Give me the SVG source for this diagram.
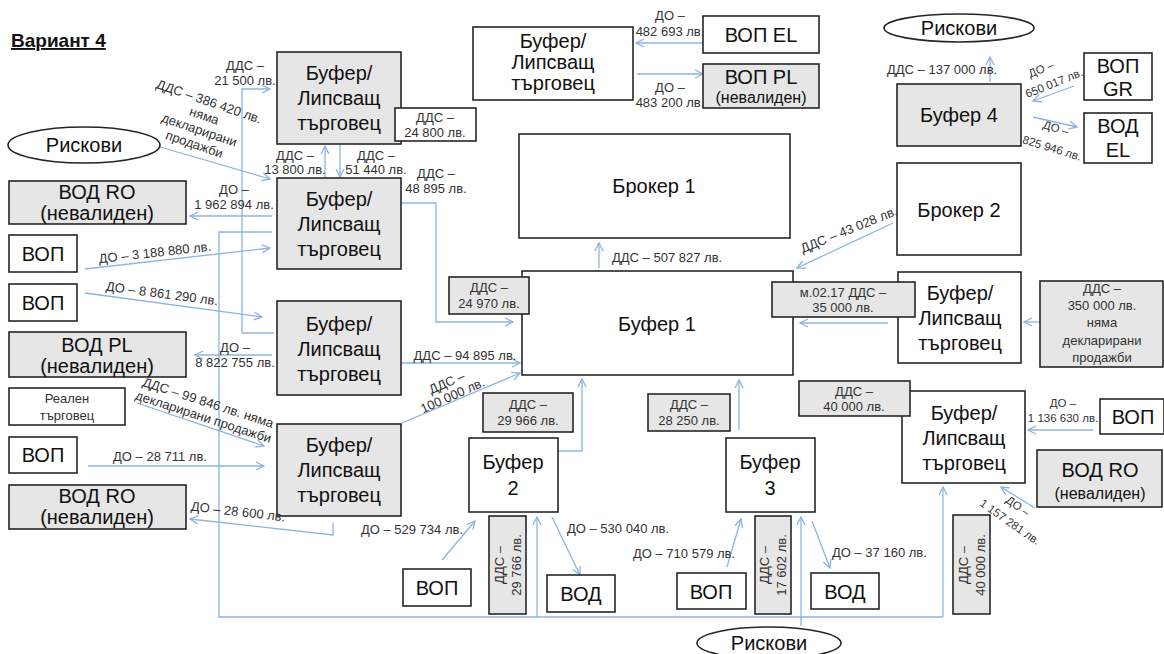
<svg xmlns="http://www.w3.org/2000/svg" width="1164" height="654" viewBox="0 0 1164 654">
<style>
text{font-family:"Liberation Sans",Arial,sans-serif}
.n{fill:#fff;stroke:#262626;stroke-width:1.6}
.g{fill:#e6e6e6;stroke:#262626;stroke-width:1.6}
.t{font-size:20px;fill:#111;text-anchor:middle}
.m{font-size:16px;fill:#111;text-anchor:middle}
.s{font-size:13px;fill:#333;text-anchor:middle}
.l{font-size:11.5px;fill:#333;text-anchor:middle}
.st{text-anchor:start}
.en{text-anchor:end}
.c{fill:none;stroke:#8db3e2;stroke-width:1.3}
.a{marker-end:url(#ah)}
</style>
<defs>
<marker id="ah" viewBox="0 0 10 10" refX="9" refY="5" markerWidth="10" markerHeight="10" orient="auto" markerUnits="userSpaceOnUse">
<path d="M1,1 L9,5 L1,9" fill="none" stroke="#8db3e2" stroke-width="1.3"/>
</marker>
</defs>
<rect width="1164" height="654" fill="#fff"/>
<text x="11" y="47" font-size="19" font-weight="bold" text-decoration="underline" fill="#111">Вариант 4</text>

<g id="connectors">
<path class="c a" d="M242,333 H274 M242,333 V89 H270"/>
<path class="c" d="M272,232 H219 V617 H943"/>
<path class="c a" d="M943,617 V487"/>
<path class="c a" d="M537,617 V517"/>
<path class="c a" d="M801,626 V517"/>
<path class="c a" d="M160,147 L270,179"/>
<path class="c a" d="M272,216 H190"/>
<path class="c a" d="M85,269 L270,248"/>
<path class="c a" d="M85,293 L262,317"/>
<path class="c a" d="M272,355 H195"/>
<path class="c a" d="M137,403 L264,446"/>
<path class="c a" d="M88,466 H264"/>
<path class="c a" d="M333,523 V535 L190,519"/>
<path class="c a" d="M325,178 V146"/>
<path class="c a" d="M340,145 V177"/>
<path class="c a" d="M401,203 H436 V322 H513"/>
<path class="c a" d="M402,363 H520"/>
<path class="c a" d="M402,423 L520,373"/>
<path class="c a" d="M703,43 H636"/>
<path class="c a" d="M637,74 H703"/>
<path class="c a" d="M599,268 V243"/>
<path class="c a" d="M558,451 H582 V379"/>
<path class="c a" d="M739,430 V380"/>
<path class="c a" d="M442,560 L475,521"/>
<path class="c a" d="M552,517 L580,575"/>
<path class="c a" d="M727,567 L741,519"/>
<path class="c a" d="M812,521 L830,568"/>
<path class="c a" d="M893,223 L797,268"/>
<path class="c a" d="M990,82 V57"/>
<path class="c a" d="M1074,86 L1033,101"/>
<path class="c a" d="M1033,117 L1077,127"/>
<path class="c a" d="M1040,322 H1024"/>
<path class="c a" d="M888,323 H800"/>
<path class="c a" d="M1093,430 H1028"/>
<path class="c a" d="M1035,508 L1001,487"/>
</g>

<g id="risk-left"><ellipse cx="84" cy="145" rx="76" ry="18" class="n"/><text class="t" x="84" y="152">Рискови</text></g>
<g id="vod-ro-1"><rect x="9" y="181" width="177" height="43" class="g"/><text class="t" x="97" y="199">ВОД RO</text><text class="t" x="97" y="220">(невалиден)</text></g>
<g id="vop-1"><rect x="9" y="235" width="68" height="37" class="n"/><text class="t" x="43" y="261">ВОП</text></g>
<g id="vop-2"><rect x="9" y="284" width="68" height="37" class="n"/><text class="t" x="43" y="310">ВОП</text></g>
<g id="vod-pl"><rect x="9" y="332" width="177" height="45" class="g"/><text class="t" x="97" y="352">ВОД PL</text><text class="t" x="97" y="373">(невалиден)</text></g>
<g id="real"><rect x="9" y="388" width="116" height="37" class="n"/><text class="s" x="67" y="403" fill="#111">Реален</text><text class="s" x="67" y="420" fill="#111">търговец</text></g>
<g id="vop-3"><rect x="9" y="437" width="68" height="36" class="n"/><text class="t" x="43" y="462">ВОП</text></g>
<g id="vod-ro-2"><rect x="9" y="485" width="177" height="44" class="g"/><text class="t" x="97" y="503">ВОД RO</text><text class="t" x="97" y="524">(невалиден)</text></g>

<g id="buf-a"><rect x="277" y="52" width="124" height="92" class="g"/><text class="t" x="339" y="80">Буфер/</text><text class="t" x="339" y="105">Липсващ</text><text class="t" x="339" y="130">търговец</text></g>
<g id="buf-b"><rect x="277" y="178" width="124" height="91" class="g"/><text class="t" x="339" y="206">Буфер/</text><text class="t" x="339" y="231">Липсващ</text><text class="t" x="339" y="256">търговец</text></g>
<g id="buf-c"><rect x="277" y="301" width="124" height="94" class="g"/><text class="t" x="339" y="331">Буфер/</text><text class="t" x="339" y="356">Липсващ</text><text class="t" x="339" y="381">търговец</text></g>
<g id="buf-d"><rect x="277" y="424" width="124" height="92" class="g"/><text class="t" x="339" y="452">Буфер/</text><text class="t" x="339" y="477">Липсващ</text><text class="t" x="339" y="502">търговец</text></g>

<g id="buf-top"><rect x="473" y="27" width="160" height="73" class="n"/><text class="t" x="553" y="48">Буфер/</text><text class="t" x="553" y="69">Липсващ</text><text class="t" x="553" y="90">търговец</text></g>
<g id="vop-el"><rect x="703" y="16" width="116" height="37" class="n"/><text class="t" x="761" y="42" font-size="21">ВОП EL</text></g>
<g id="vop-pl"><rect x="703" y="64" width="116" height="44" class="g"/><text class="t" x="761" y="84" font-size="21">ВОП PL</text><text class="m" x="761" y="103">(невалиден)</text></g>

<g id="broker1"><rect x="519" y="134" width="271" height="104" class="n"/><text class="t" x="654" y="193" font-size="21">Брокер 1</text></g>
<g id="buffer1"><rect x="522" y="271" width="271" height="104" class="n"/><text class="t" x="657" y="331" font-size="21">Буфер 1</text></g>

<g id="risk-top"><ellipse cx="959" cy="28" rx="75" ry="14" class="n"/><text class="t" x="959" y="35">Рискови</text></g>
<g id="buffer4"><rect x="897" y="84" width="124" height="62" class="g"/><text class="t" x="959" y="122">Буфер 4</text></g>
<g id="vop-gr"><rect x="1084" y="53" width="68" height="47" class="n"/><text class="t" x="1118" y="73">ВОП</text><text class="t" x="1118" y="96">GR</text></g>
<g id="vod-el"><rect x="1084" y="113" width="68" height="50" class="n"/><text class="t" x="1118" y="133">ВОД</text><text class="t" x="1118" y="157">EL</text></g>
<g id="broker2"><rect x="897" y="163" width="124" height="92" class="n"/><text class="t" x="959" y="217">Брокер 2</text></g>
<g id="buf-right"><rect x="898" y="272" width="123" height="91" class="n"/><text class="t" x="960" y="300">Буфер/</text><text class="t" x="960" y="325">Липсващ</text><text class="t" x="960" y="350">търговец</text></g>
<g id="dds-350"><rect x="1040" y="281" width="123" height="86" class="g"/><text class="s" x="1102" y="293">ДДС –</text><text class="s" x="1102" y="310">350 000 лв.</text><text class="s" x="1102" y="327">няма</text><text class="s" x="1102" y="345">декларирани</text><text class="s" x="1102" y="362">продажби</text></g>
<g id="buf-lowright"><rect x="902" y="391" width="123" height="92" class="n"/><text class="t" x="964" y="420">Буфер/</text><text class="t" x="964" y="445">Липсващ</text><text class="t" x="964" y="470">търговец</text></g>
<g id="vop-right"><rect x="1100" y="399" width="64" height="35" class="n"/><text class="t" x="1133" y="424">ВОП</text></g>
<g id="vod-ro-right"><rect x="1037" y="450" width="125" height="57" class="g"/><text class="t" x="1100" y="477">ВОД RO</text><text class="m" x="1100" y="499">(невалиден)</text></g>

<g id="buffer2"><rect x="469" y="438" width="89" height="74" class="n"/><text class="t" x="513" y="469">Буфер</text><text class="t" x="513" y="495">2</text></g>
<g id="buffer3"><rect x="726" y="438" width="89" height="74" class="n"/><text class="t" x="770" y="469">Буфер</text><text class="t" x="770" y="495">3</text></g>
<g id="vop-b1"><rect x="403" y="569" width="68" height="37" class="n"/><text class="t" x="437" y="595">ВОП</text></g>
<g id="vod-b1"><rect x="547" y="575" width="68" height="37" class="n"/><text class="t" x="581" y="601">ВОД</text></g>
<g id="vop-b2"><rect x="677" y="573" width="69" height="36" class="n"/><text class="t" x="711" y="599">ВОП</text></g>
<g id="vod-b2"><rect x="811" y="573" width="68" height="36" class="n"/><text class="t" x="845" y="599">ВОД</text></g>
<g id="risk-bottom"><ellipse cx="769" cy="643" rx="72" ry="16" class="n"/><text class="t" x="769" y="650">Рискови</text></g>

<g id="label-boxes">
<rect x="395" y="108" width="81" height="33" class="n"/><text class="s" x="435" y="122">ДДС –</text><text class="s" x="435" y="137">24 800 лв.</text>
<rect x="449" y="277" width="80" height="37" class="g"/><text class="s" x="489" y="292">ДДС –</text><text class="s" x="489" y="308">24 970 лв.</text>
<rect x="772" y="282" width="143" height="35" class="g"/><text class="s" x="843" y="297">м.02.17 ДДС –</text><text class="s" x="843" y="312">35 000 лв.</text>
<rect x="799" y="381" width="111" height="35" class="g"/><text class="s" x="854" y="396">ДДС –</text><text class="s" x="854" y="411">40 000 лв.</text>
<rect x="483" y="393" width="90" height="39" class="g"/><text class="s" x="528" y="409">ДДС –</text><text class="s" x="528" y="425">29 966 лв.</text>
<rect x="648" y="394" width="82" height="37" class="g"/><text class="s" x="689" y="409">ДДС –</text><text class="s" x="689" y="425">28 250 лв.</text>
<rect x="489" y="516" width="37" height="98" class="g"/><g transform="translate(504,565) rotate(-90)"><text class="s" x="0" y="0">ДДС –</text><text class="s" x="0" y="17">29 766 лв.</text></g>
<rect x="755" y="516" width="36" height="98" class="g"/><g transform="translate(769,565) rotate(-90)"><text class="s" x="0" y="0">ДДС –</text><text class="s" x="0" y="17">17 602 лв.</text></g>
<rect x="953" y="515" width="37" height="99" class="g"/><g transform="translate(968,565) rotate(-90)"><text class="s" x="0" y="0">ДДС –</text><text class="s" x="0" y="17">40 000 лв.</text></g>
</g>

<g id="connector-labels">
<text class="s" x="245" y="70">ДДС –</text><text class="s" x="245" y="85">21 500 лв.</text>
<g transform="translate(209,102) rotate(19)"><text class="s" y="4">ДДС – 386 420 лв.</text><text class="s" y="19">няма</text><text class="s" y="34">декларирани</text><text class="s" y="49">продажби</text></g>
<text class="s" x="295" y="160">ДДС –</text><text class="s" x="295" y="174">13 800 лв.</text>
<text class="s" x="376" y="160">ДДС –</text><text class="s" x="376" y="174">51 440 лв.</text>
<text class="s" x="436" y="178">ДДС –</text><text class="s" x="436" y="193">48 895 лв.</text>
<text class="s" x="234" y="194">ДО –</text><text class="s" x="234" y="209">1 962 894 лв.</text>
<text class="s" transform="translate(155,253) rotate(-6.5)" y="4">ДО – 3 188 880 лв.</text>
<text class="s" transform="translate(162,294) rotate(7.5)" y="4">ДО – 8 861 290 лв.</text>
<text class="s" x="235" y="352">ДО –</text><text class="s" x="235" y="367">8 822 755 лв.</text>
<text class="s" x="465" y="360">ДДС – 94 895 лв.</text>
<g transform="translate(447,383) rotate(-24)"><text class="s" y="4">ДДС –</text><text class="s" y="18">100 000 лв.</text></g>
<g transform="translate(208,403) rotate(18)"><text class="s" y="4">ДДС – 99 846 лв. няма</text><text class="s" y="19">декларирани продажби</text></g>
<text class="s" x="160" y="461">ДО – 28 711 лв.</text>
<text class="s" transform="translate(238,512) rotate(6.5)" y="4">ДО – 28 600 лв.</text>
<text class="s" x="670" y="20">ДО –</text><text class="s" x="670" y="36">482 693 лв.</text>
<text class="s" x="670" y="92">ДО –</text><text class="s" x="670" y="107">483 200 лв.</text>
<text class="s st" x="612" y="262">ДДС – 507 827 лв.</text>
<text class="s st" x="887" y="74">ДДС – 137 000 лв.</text>
<g transform="translate(1041,69) rotate(-22)"><text class="l" y="4">ДО –</text></g>
<g transform="translate(1054,83) rotate(-22)"><text class="l" y="4">650 017 лв.</text></g>
<g transform="translate(1056,128) rotate(17)"><text class="l" y="4">ДО –</text></g>
<g transform="translate(1052,148) rotate(17)"><text class="l" y="4">825 946 лв.</text></g>
<text class="s" transform="translate(849,230) rotate(-22)" y="4">ДДС – 43 028 лв.</text>
<text class="l" x="1063" y="407">ДО –</text><text class="l" x="1063" y="422">1 136 630 лв.</text>
<g transform="translate(1018,506) rotate(35)"><text class="l" y="4">ДО –</text></g>
<g transform="translate(1010,522) rotate(35)"><text class="l" y="4">1 157 281 лв.</text></g>
<text class="s en" x="463" y="534">ДО – 529 734 лв.</text>
<text class="s st" x="567" y="533">ДО – 530 040 лв.</text>
<text class="s st" x="633" y="558">ДО – 710 579 лв.</text>
<text class="s st" x="832" y="557">ДО – 37 160 лв.</text>
</g>
</svg>
